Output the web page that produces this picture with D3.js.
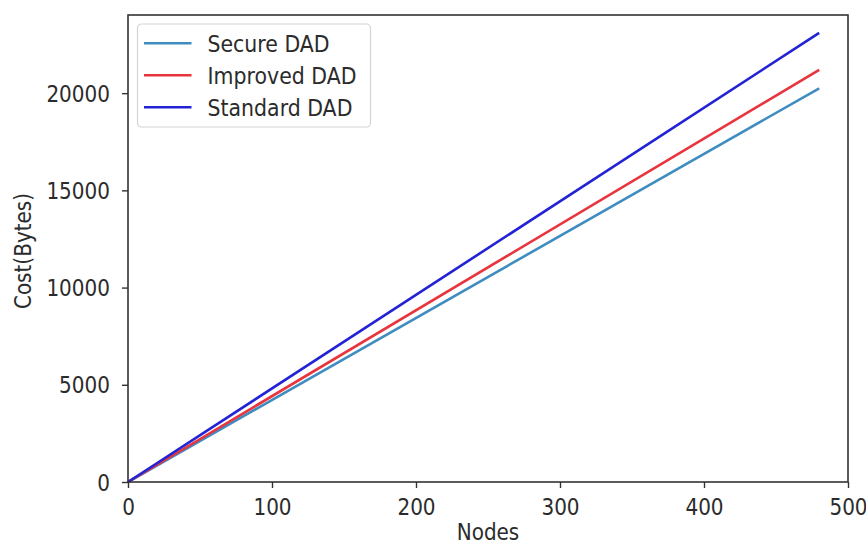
<!DOCTYPE html>
<html>
<head>
<meta charset="utf-8">
<script src="https://cdn.jsdelivr.net/npm/d3@7"></script>
<style>
  html, body { margin: 0; padding: 0; background: #fff; }
  svg { display: block; }
  text { font-family: "DejaVu Sans", sans-serif; fill: #2b2b2b; }
</style>
</head>
<body>
<svg id="chart" width="866" height="546"></svg>
<script>
// Communication cost of the three DAD schemes versus network size
const nodes = [0, 480];
const secureDAD = [0, 20250];
const improvedDAD = [0, 21200];
const standardDAD = [0, 23100];
const seriesNames = ["Secure DAD", "Improved DAD", "Standard DAD"];
const seriesColors = ["#3f8cc0", "#e8343c", "#2323d6"];
const xTicks = [0, 100, 200, 300, 400, 500];
const yTicks = [0, 5000, 10000, 15000, 20000];

const series = [secureDAD, improvedDAD, standardDAD].map((vals, i) => ({
  name: seriesNames[i],
  color: seriesColors[i],
  points: nodes.map((n, j) => [n, vals[j]])
}));

const W = 866, H = 546;
const plot = { left: 128, right: 848, top: 15, bottom: 482 };
const svg = d3.select("#chart");

const x = d3.scaleLinear().domain([0, 500]).range([plot.left, plot.right]);
const y = d3.scaleLinear().domain([0, 24020]).range([plot.bottom, plot.top]);

const fs = 20;          // base font size
const stretch = 1.12;   // glyphs are drawn slightly taller than wide

// place a text at (tx, ty) with a vertical stretch about its baseline
function stretched(sel, tx, ty, extra = "") {
  sel.attr("x", 0).attr("y", 0)
    .attr("transform", `translate(${tx},${ty}) ${extra} scale(1,${stretch})`);
}

// lines
const line = d3.line().x(d => x(d[0])).y(d => y(d[1]));
svg.append("g").selectAll("path").data(series).join("path")
  .attr("d", d => line(d.points))
  .attr("fill", "none")
  .attr("stroke", d => d.color)
  .attr("stroke-width", 2.6);

// axes
const xAxis = svg.append("g")
  .attr("transform", `translate(0,${plot.bottom})`)
  .call(d3.axisBottom(x).tickValues(xTicks).tickSize(6).tickFormat(d3.format("d")));
const yAxis = svg.append("g")
  .attr("transform", `translate(${plot.left},0)`)
  .call(d3.axisLeft(y).tickValues(yTicks).tickSize(6).tickFormat(d3.format("d")));

[xAxis, yAxis].forEach(g => {
  g.select(".domain").remove();
  g.selectAll(".tick line").attr("stroke", "#333").attr("stroke-width", 1.4);
  g.selectAll(".tick text")
    .attr("font-size", fs).attr("font-family", "DejaVu Sans").attr("fill", "#2b2b2b")
    .attr("dy", null);
});
const capHalf = 0.365 * fs * stretch;
xAxis.selectAll(".tick text").each(function () {
  stretched(d3.select(this).attr("text-anchor", "middle"), 0, 24.5 + capHalf);
});
yAxis.selectAll(".tick text").each(function () {
  stretched(d3.select(this).attr("text-anchor", "end"), -18, capHalf);
});

// frame
svg.append("rect")
  .attr("x", plot.left).attr("y", plot.top)
  .attr("width", plot.right - plot.left).attr("height", plot.bottom - plot.top)
  .attr("fill", "none").attr("stroke", "#333").attr("stroke-width", 1.6);

// axis titles
stretched(svg.append("text")
  .attr("text-anchor", "middle").attr("font-size", fs)
  .text("Nodes"), (plot.left + plot.right) / 2, 540);
svg.append("text")
  .attr("text-anchor", "middle").attr("font-size", fs)
  .attr("transform", `translate(${23 + capHalf},251) rotate(-90) scale(1,${stretch})`)
  .text("Cost(Bytes)");

// legend
const lg = svg.append("g").attr("transform", "translate(137.5,24)");
lg.append("rect")
  .attr("width", 233).attr("height", 103).attr("rx", 4)
  .attr("fill", "#fff").attr("fill-opacity", 0.85)
  .attr("stroke", "#d4d4d4").attr("stroke-width", 1.2);
series.forEach((s, i) => {
  const yy = 19.3 + i * 32;
  lg.append("line")
    .attr("x1", 6.5).attr("x2", 54).attr("y1", yy).attr("y2", yy)
    .attr("stroke", s.color).attr("stroke-width", 2.6);
  stretched(lg.append("text").attr("font-size", 20.5).text(s.name),
    70, yy + 0.365 * 20.5 * stretch);
});
</script>
</body>
</html>
